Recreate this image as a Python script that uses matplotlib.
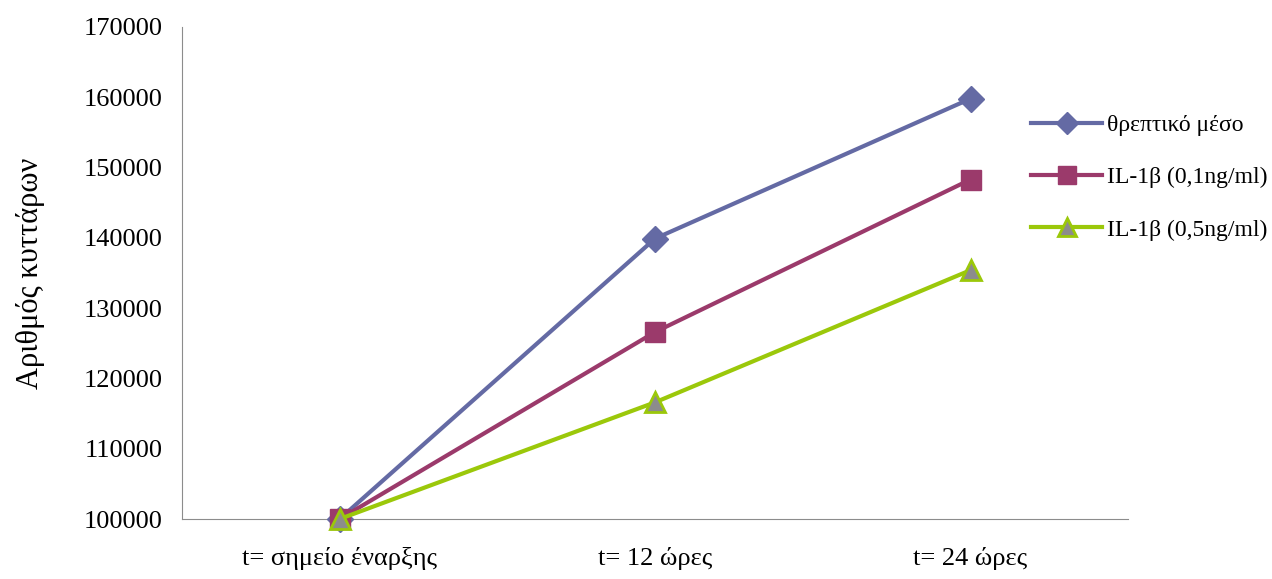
import matplotlib
matplotlib.use('Agg')
import matplotlib.pyplot as plt

plt.rcParams['font.family'] = ['Liberation Serif', 'DejaVu Serif']

categories = ['t= σημείο έναρξης', 't= 12 ώρες', 't= 24 ώρες']
medium = [100000, 139900, 159800]
il1b_01 = [100000, 126600, 148300]
il1b_05 = [100000, 116600, 135400]
series_names = ['θρεπτικό μέσο', 'IL-1β (0,1ng/ml)', 'IL-1β (0,5ng/ml)']
yticks = list(range(100000, 170001, 10000))

fig = plt.figure(figsize=(12.72, 5.79), dpi=100)
ax = fig.add_axes([0.143, 0.1036, 0.744, 0.8498])

x = list(range(len(categories)))
ax.plot(x, medium, color='#646AA4', lw=3, marker='D', ms=13,
        mfc='#646AA4', mec='#646AA4', label=series_names[0], zorder=3,
        clip_on=False)
ax.plot(x, il1b_01, color='#9B3A6B', lw=3, marker='s', ms=15,
        mfc='#9B3A6B', mec='#9B3A6B', label=series_names[1], zorder=4,
        clip_on=False)
ax.plot(x, il1b_05, color='#9BC80A', lw=3, marker='^', ms=15,
        mfc='#8C8C8C', mec='#9BC80A', mew=2, label=series_names[2], zorder=5,
        clip_on=False)

ax.set_xlim(-0.5, 2.5)
ax.set_ylim(100000, 170000)
ax.set_yticks(yticks)
ax.set_yticklabels([str(v) for v in yticks], fontsize=19)
ax.set_xticks(x)
ax.set_xticklabels(categories, fontsize=19)
ax.tick_params(length=0, pad=14)
ax.tick_params(axis='x', pad=20)

for s in ['top', 'right']:
    ax.spines[s].set_visible(False)
ax.spines['left'].set_color('#8C8C8C')
ax.spines['bottom'].set_color('#8C8C8C')

ax.set_ylabel('Αριθμός κυττάρων', fontsize=22, labelpad=28)

leg = ax.legend(loc='upper left', bbox_to_anchor=(0.875, 0.865), frameon=False,
                fontsize=17, handlelength=3.0, labelspacing=1.3,
                handletextpad=0.2, markerscale=0.85)

fig.savefig('out.png', dpi=100)
